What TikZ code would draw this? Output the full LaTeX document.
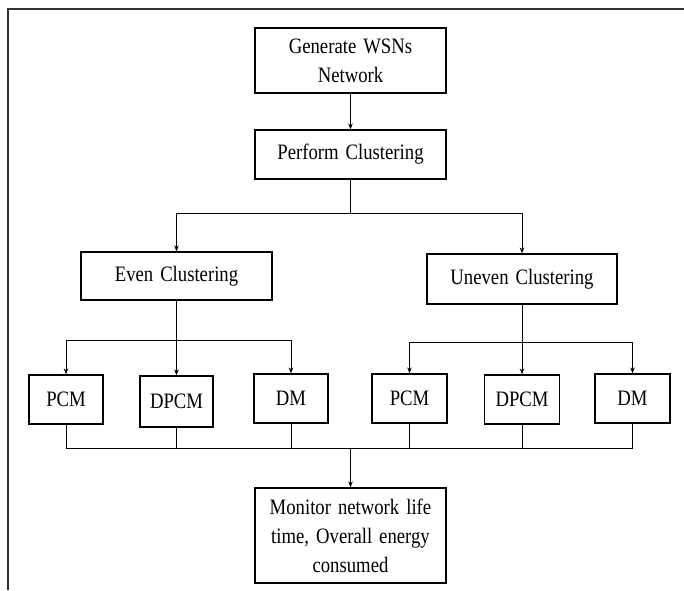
\documentclass[tikz,border=0pt]{standalone}
\usepackage{fontspec}
\setmainfont{Liberation Serif}[FakeStretch=0.85,WordSpace=1.5]
\usetikzlibrary{arrows.meta}
\begin{document}
\begin{tikzpicture}[x=1pt,y=-1pt,
  box/.style={draw=black, line width=1.2pt, fill=white, inner sep=0pt, align=center,
    font=\fontsize{22}{29}\selectfont},
  conn/.style={draw=black, line width=1pt},
  arr/.style={conn, -{Stealth[length=6pt,width=4.5pt]}},
  frame/.style={draw=black!80, line width=1.2pt}]
\useasboundingbox (0,0) rectangle (684,590);
% frame lines
\draw[frame] (7,9) -- (684,9);
\draw[frame] (8,9) -- (8,590);
% nodes
\node[box, minimum width=191pt, minimum height=65pt] (gen) at (350.5,60.5) {Generate WSNs\\Network};
\node[box, minimum width=191pt, minimum height=49pt] (perf) at (350.5,154.5) {Perform Clustering};
\node[box, minimum width=191pt, minimum height=48pt] (even) at (176.5,276) {Even Clustering};
\node[box, minimum width=190pt, minimum height=50pt] (uneven) at (522,279) {Uneven Clustering};
\node[box, minimum width=74pt, minimum height=49pt] (epcm) at (66,399.5) {PCM};
\node[box, minimum width=73pt, minimum height=51pt] (edpcm) at (176.5,401.5) {DPCM};
\node[box, minimum width=74pt, minimum height=49pt] (edm) at (291,398.5) {DM};
\node[box, minimum width=75pt, minimum height=49pt] (upcm) at (409.5,398.5) {PCM};
\node[box, minimum width=75pt, minimum height=49pt] (udpcm) at (522,399.5) {DPCM};
\node[box, minimum width=75pt, minimum height=49pt] (udm) at (632.5,398.5) {DM};
\node[box, minimum width=191pt, minimum height=95pt] (mon) at (350.5,535.5) {Monitor network life\\time, Overall energy\\consumed};
% junctions
\coordinate (b1) at (350.5,213);
\coordinate (b2) at (176.5,340);
\coordinate (b3) at (522,342);
\coordinate (b4) at (350.5,448);
% connectors
\draw[arr] (gen.south) -- (perf.north);
\draw[conn] (perf.south) -- (b1);
\draw[arr] (b1) -| (even.north);
\draw[arr] (b1) -| (uneven.north);
\draw[conn] (even.south) -- (b2);
\draw[arr] (b2) -| (epcm.north);
\draw[arr] (b2) -- (edpcm.north);
\draw[arr] (b2) -| (edm.north);
\draw[conn] (uneven.south) -- (b3);
\draw[arr] (b3) -| (upcm.north);
\draw[arr] (b3) -- (udpcm.north);
\draw[arr] (b3) -| (udm.north);
\draw[conn] (epcm.south) |- (b4);
\draw[conn] (edpcm.south) |- (b4);
\draw[conn] (edm.south) |- (b4);
\draw[conn] (upcm.south) |- (b4);
\draw[conn] (udpcm.south) |- (b4);
\draw[conn] (udm.south) |- (b4);
\draw[arr] (b4) -- (mon.north);
\end{tikzpicture}
\end{document}
